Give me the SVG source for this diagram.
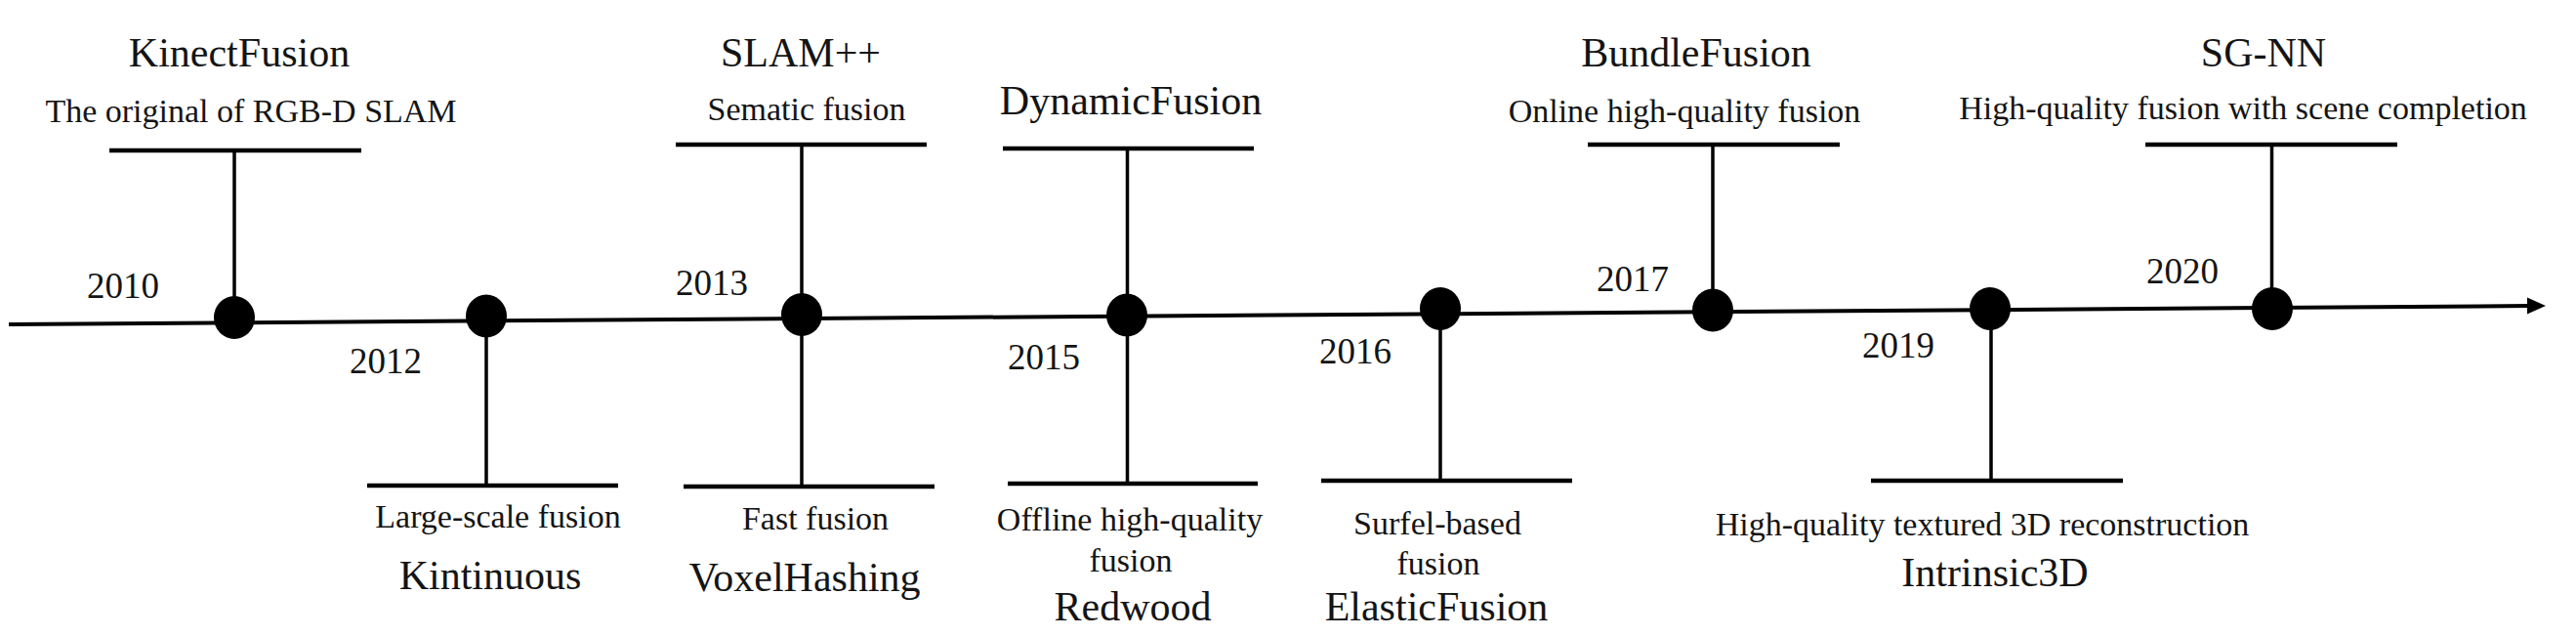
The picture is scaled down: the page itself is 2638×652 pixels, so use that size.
<svg xmlns="http://www.w3.org/2000/svg" width="2638" height="652" viewBox="0 0 2638 652">
<style>
  text { font-family: "Liberation Serif", "Times New Roman", serif; fill: #141414; }
  .t { font-size: 42px; text-anchor: middle; }
  .s { font-size: 34px; text-anchor: middle; }
  .y { font-size: 37px; }
  .bar { stroke: #000; stroke-width: 4.5; fill: none; }
  .stem { stroke: #000; stroke-width: 3.5; fill: none; }
  .dot { fill: #000; }
  .axis { stroke: #000; stroke-width: 4; fill: none; }
</style>
<rect width="2638" height="652" fill="#fff"/>
<g id="connectors">
  <line class="axis" x1="9" y1="332" x2="2592" y2="313.1"/>
  <polygon points="2607,313 2588,304.5 2588,321.5" fill="#000"/>
</g>
<g id="n2010">
  <line class="bar" x1="112" y1="154" x2="370" y2="154"/>
  <line class="stem" x1="240" y1="154" x2="240" y2="325"/>
  <ellipse class="dot" cx="240" cy="325" rx="21" ry="22"/>
  <text class="t" x="245" y="68">KinectFusion</text>
  <text class="s" x="257" y="125">The original of RGB-D SLAM</text>
  <text class="y" x="89" y="305">2010</text>
</g>
<g id="n2012">
  <line class="bar" x1="376" y1="497" x2="633" y2="497"/>
  <line class="stem" x1="498" y1="323" x2="498" y2="497"/>
  <ellipse class="dot" cx="498" cy="323.5" rx="21" ry="22"/>
  <text class="y" x="358" y="382">2012</text>
  <text class="s" x="510" y="540">Large-scale fusion</text>
  <text class="t" x="502" y="603">Kintinuous</text>
</g>
<g id="n2013">
  <line class="bar" x1="692" y1="148" x2="949" y2="148"/>
  <line class="bar" x1="700" y1="498" x2="957" y2="498"/>
  <line class="stem" x1="821" y1="148" x2="821" y2="498"/>
  <ellipse class="dot" cx="821" cy="322" rx="21" ry="22"/>
  <text class="t" x="820" y="68">SLAM++</text>
  <text class="s" x="826" y="123">Sematic fusion</text>
  <text class="y" x="692" y="302">2013</text>
  <text class="s" x="835" y="542">Fast fusion</text>
  <text class="t" x="824" y="605">VoxelHashing</text>
</g>
<g id="n2015">
  <line class="bar" x1="1027" y1="152" x2="1284" y2="152"/>
  <line class="bar" x1="1032" y1="495" x2="1288" y2="495"/>
  <line class="stem" x1="1154.5" y1="152" x2="1154.5" y2="495"/>
  <ellipse class="dot" cx="1154" cy="322.5" rx="21" ry="22"/>
  <text class="t" x="1158" y="117">DynamicFusion</text>
  <text class="y" x="1032" y="378">2015</text>
  <text class="s" x="1157" y="543">Offline high-quality</text>
  <text class="s" x="1158" y="585">fusion</text>
  <text class="t" x="1160" y="635">Redwood</text>
</g>
<g id="n2016">
  <line class="bar" x1="1353" y1="492" x2="1610" y2="492"/>
  <line class="stem" x1="1475" y1="316" x2="1475" y2="492"/>
  <ellipse class="dot" cx="1475" cy="316" rx="21" ry="22"/>
  <text class="y" x="1351" y="372">2016</text>
  <text class="s" x="1472" y="547">Surfel-based</text>
  <text class="s" x="1473" y="588">fusion</text>
  <text class="t" x="1471" y="635">ElasticFusion</text>
</g>
<g id="n2017">
  <line class="bar" x1="1626" y1="148" x2="1884" y2="148"/>
  <line class="stem" x1="1754" y1="148" x2="1754" y2="317"/>
  <ellipse class="dot" cx="1754" cy="317.5" rx="21" ry="22"/>
  <text class="t" x="1737" y="68">BundleFusion</text>
  <text class="s" x="1725" y="125">Online high-quality fusion</text>
  <text class="y" x="1635" y="298">2017</text>
</g>
<g id="n2019">
  <line class="bar" x1="1916" y1="492" x2="2174" y2="492"/>
  <line class="stem" x1="2039" y1="316" x2="2039" y2="492"/>
  <ellipse class="dot" cx="2038" cy="316" rx="21" ry="22"/>
  <text class="y" x="1907" y="366">2019</text>
  <text class="s" x="2030" y="548">High-quality textured 3D reconstruction</text>
  <text class="t" x="2043" y="600">Intrinsic3D</text>
</g>
<g id="n2020">
  <line class="bar" x1="2197" y1="148" x2="2455" y2="148"/>
  <line class="stem" x1="2326.5" y1="148" x2="2326.5" y2="316"/>
  <ellipse class="dot" cx="2327" cy="316" rx="21" ry="22"/>
  <text class="t" x="2318" y="68">SG-NN</text>
  <text class="s" x="2297" y="122">High-quality fusion with scene completion</text>
  <text class="y" x="2198" y="290">2020</text>
</g>
</svg>
